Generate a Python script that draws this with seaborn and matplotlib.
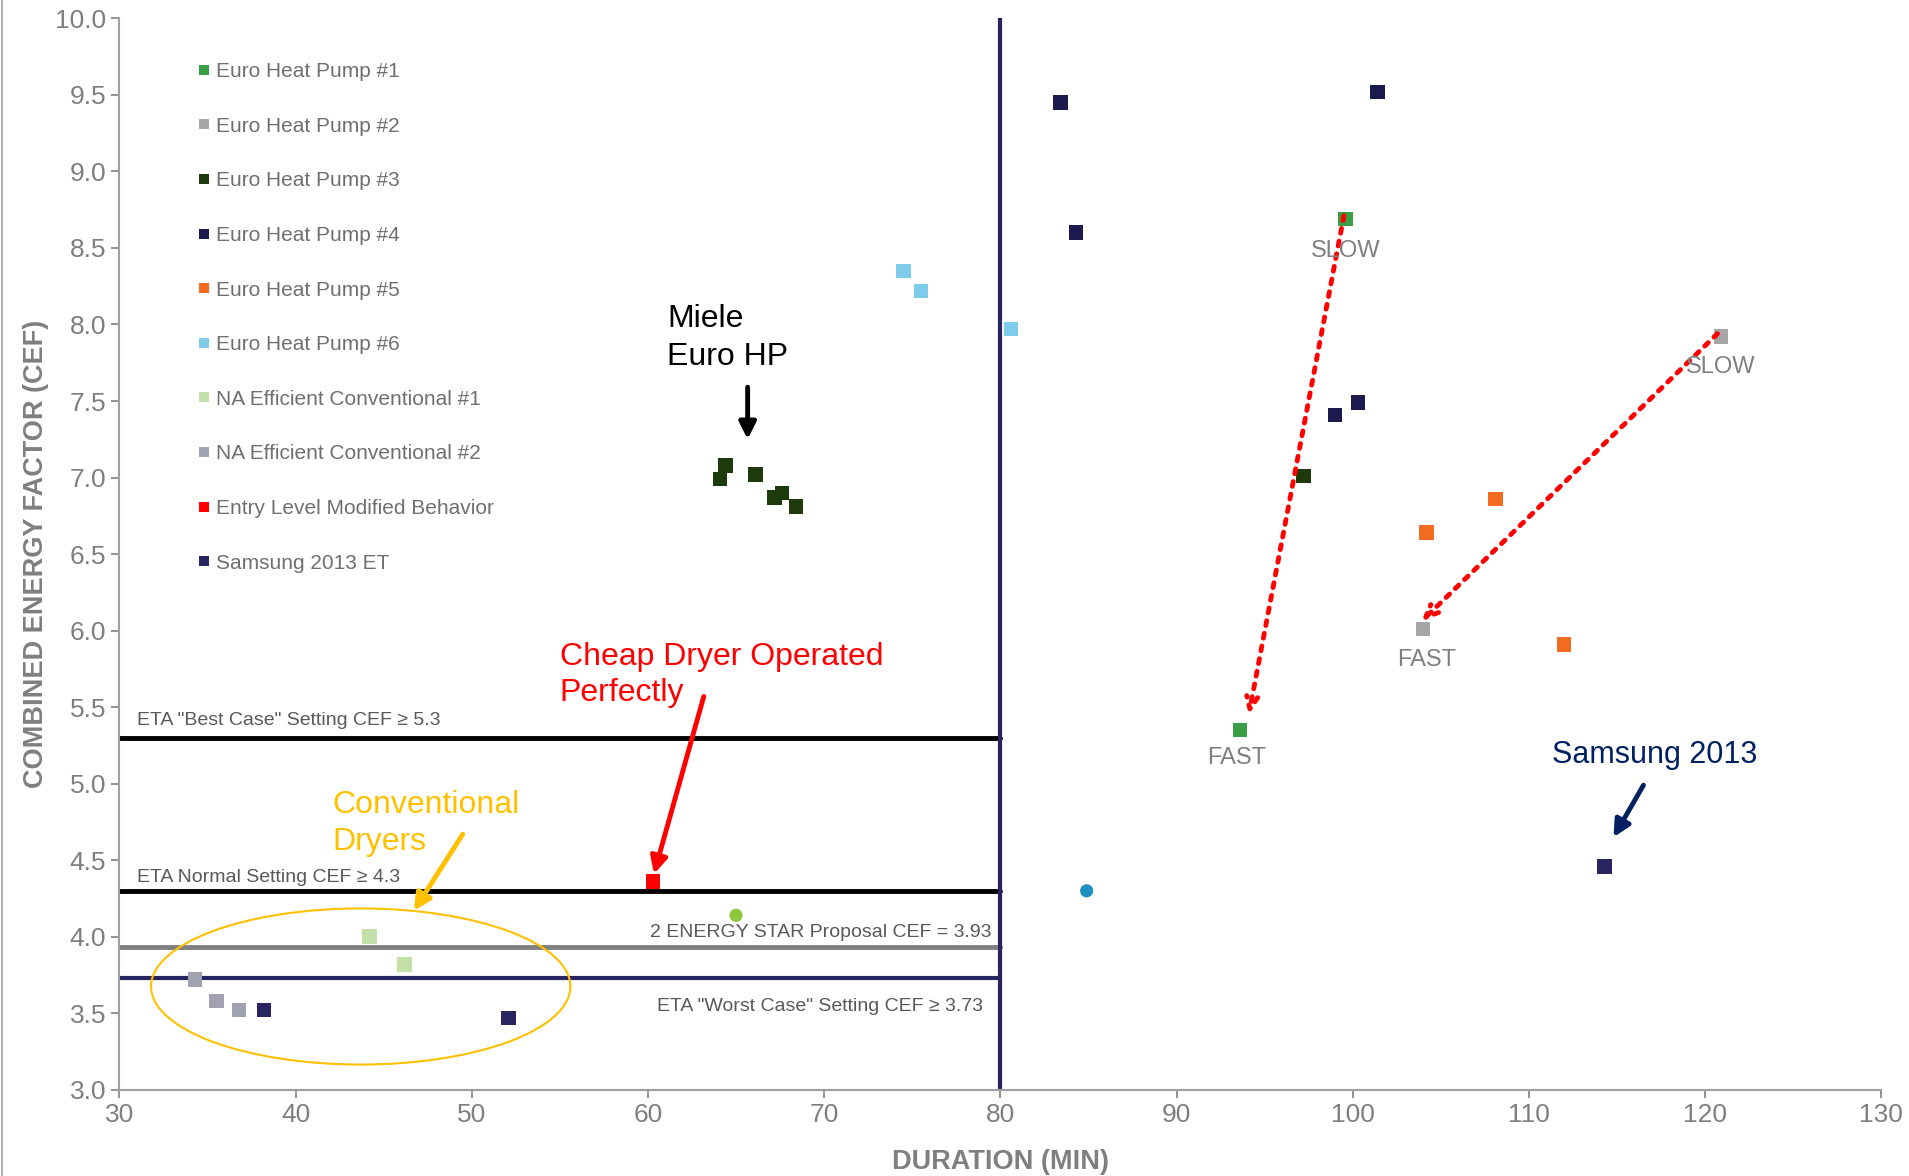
import pandas as pd
import matplotlib.pyplot as plt
import seaborn as sns
from matplotlib.patches import Ellipse
from matplotlib.lines import Line2D

# Series: duration (min), CEF
series = ['Euro Heat Pump #1', 'Euro Heat Pump #2', 'Euro Heat Pump #3',
          'Euro Heat Pump #4', 'Euro Heat Pump #5', 'Euro Heat Pump #6',
          'NA Efficient Conventional #1', 'NA Efficient Conventional #2',
          'Entry Level Modified Behavior', 'Samsung 2013 ET']
colors = ['#3a9e47', '#a6a6a6', '#1d3a0d', '#1c1a4e', '#f26b21', '#7ecbea',
          '#c3e0a9', '#a2a1b2', '#ff0000', '#28245f']

hp1_x = [99.6, 93.6]
hp1_y = [8.69, 5.35]
hp2_x = [120.9, 104.0]
hp2_y = [7.92, 6.01]
hp3_x = [64.1, 64.4, 66.1, 67.2, 67.6, 68.4, 97.2]
hp3_y = [6.99, 7.08, 7.02, 6.87, 6.90, 6.81, 7.01]
hp4_x = [83.4, 101.4, 84.3, 99.0, 100.3]
hp4_y = [9.45, 9.52, 8.60, 7.41, 7.49]
hp5_x = [104.2, 108.1, 112.0]
hp5_y = [6.64, 6.86, 5.91]
hp6_x = [74.5, 75.5, 80.6]
hp6_y = [8.35, 8.22, 7.97]
na1_x = [44.2, 46.2]
na1_y = [4.00, 3.82]
na2_x = [34.3, 35.5, 36.8]
na2_y = [3.72, 3.58, 3.52]
entry_x = [60.3]
entry_y = [4.36]
sam_x = [114.3, 38.2, 52.1]
sam_y = [4.46, 3.52, 3.47]

# two unlabeled round markers
extra_x = [65.0, 84.9]
extra_y = [4.14, 4.30]
extra_c = ['#8dc63f', '#1f8fc1']

# reference lines
lines_y = [5.3, 4.3, 3.93, 3.73]
lines_c = ['black', 'black', '#808080', '#28245f']

xs = [hp1_x, hp2_x, hp3_x, hp4_x, hp5_x, hp6_x, na1_x, na2_x, entry_x, sam_x]
ys = [hp1_y, hp2_y, hp3_y, hp4_y, hp5_y, hp6_y, na1_y, na2_y, entry_y, sam_y]
df = pd.concat([pd.DataFrame({'dur': x, 'cef': y, 'series': s})
                for x, y, s in zip(xs, ys, series)], ignore_index=True)

sns.set_style('white')
plt.rcParams['font.family'] = ['Liberation Sans', 'DejaVu Sans']
narrow = ['Liberation Sans Narrow', 'Liberation Sans', 'DejaVu Sans']
grey = '#7f7f7f'

fig, ax = plt.subplots(figsize=(19.09, 11.76), dpi=100)
fig.subplots_adjust(left=0.0625, right=0.9855, top=0.9844, bottom=0.0733)

# reference lines (drawn under the points)
for yv, c in zip(lines_y, lines_c):
    ax.plot([30, 80], [yv, yv], color=c, lw=3.5 if c != '#28245f' else 3, zorder=1)
ax.plot([80, 80], [3, 10], color='#28245f', lw=3, zorder=1)

sns.scatterplot(data=df, x='dur', y='cef', hue='series', hue_order=series,
                palette=dict(zip(series, colors)), marker='s', s=110,
                linewidth=0, ax=ax, zorder=3)
sns.scatterplot(x=extra_x, y=extra_y, hue=extra_c, palette=dict(zip(extra_c, extra_c)),
                marker='o', s=90, linewidth=0, legend=False, ax=ax, zorder=3)

ax.set_xlim(30, 130)
ax.set_ylim(3, 10)
ax.set_xticks(range(30, 131, 10))
ax.set_yticks([3 + 0.5 * i for i in range(15)])
ax.set_yticklabels([f'{3 + 0.5 * i:.1f}' for i in range(15)])
ax.tick_params(axis='both', labelsize=19, colors=grey, length=6, width=1.2,
               direction='out', left=True, bottom=True)
for s in ['top', 'right']:
    ax.spines[s].set_visible(False)
for s in ['left', 'bottom']:
    ax.spines[s].set_color('#a0a0a0')
    ax.spines[s].set_linewidth(1.5)
ax.set_xlabel('DURATION (MIN)', fontsize=19.5, fontweight='bold', color=grey, labelpad=16)
ax.set_ylabel('COMBINED ENERGY FACTOR (CEF)', fontsize=19.5, fontweight='bold', color=grey,
              labelpad=4)

leg = ax.legend(loc='upper left', bbox_to_anchor=(0.036, 0.967), frameon=False,
                fontsize=15, labelspacing=1.71, handletextpad=0.0, markerscale=0.75,
                borderaxespad=0, handlelength=1.2)
for t in leg.get_texts():
    t.set_color('#6f6f6f')

# line labels
ax.text(31, 5.36, 'ETA "Best Case" Setting CEF ≥ 5.3', fontsize=14, color='#595959',
        family=narrow, va='bottom')
ax.text(31, 4.33, 'ETA Normal Setting CEF ≥ 4.3', fontsize=14, color='#595959',
        family=narrow, va='bottom')
ax.text(79.5, 3.97, '2 ENERGY STAR Proposal CEF = 3.93', fontsize=14, color='#595959',
        family=narrow, va='bottom', ha='right')
ax.text(79, 3.49, 'ETA "Worst Case" Setting CEF ≥ 3.73', fontsize=14, color='#595959',
        family=narrow, va='bottom', ha='right')

# ellipse round the conventional dryers
ax.add_patch(Ellipse((43.7, 3.675), 23.8, 1.02, fill=False, edgecolor='#ffc000',
                     lw=1.5, zorder=2))


def arrow(x0, y0, x1, y1, color, **kw):
    ax.annotate('', xy=(x1, y1), xytext=(x0, y0),
                arrowprops=dict(arrowstyle='-|>,head_width=0.5,head_length=1.0',
                                color=color, lw=3.5, shrinkA=0, shrinkB=0, **kw))


# callouts
ax.text(61.1, 7.91, 'Miele\nEuro HP', fontsize=23, color='black', linespacing=1.35,
        va='center')
arrow(65.66, 7.59, 65.66, 7.25, 'black')
ax.text(55.0, 5.71, 'Cheap Dryer Operated\nPerfectly', fontsize=23, color='#ff0000',
        family=narrow, linespacing=1.28, va='center')
arrow(63.17, 5.57, 60.34, 4.41, '#ff0000')
ax.text(42.1, 4.74, 'Conventional\nDryers', fontsize=23, color='#ffc000',
        family=narrow, linespacing=1.28, va='center')
arrow(49.49, 4.67, 46.72, 4.17, '#ffc000')
ax.text(111.3, 5.19, 'Samsung 2013', fontsize=22, color='#002060', va='center')
arrow(116.5, 4.99, 114.8, 4.65, '#002060')

# slow -> fast dotted arrows
ax.annotate('', xy=(94.1, 5.45), xytext=(99.5, 8.71),
            arrowprops=dict(arrowstyle='->,head_width=0.4,head_length=0.9', color='#ff0000',
                            lw=3.5, ls=':', shrinkA=0, shrinkB=0))
ax.annotate('', xy=(103.9, 6.06), xytext=(120.7, 7.94),
            arrowprops=dict(arrowstyle='->,head_width=0.4,head_length=0.9', color='#ff0000',
                            lw=3.5, ls=':', shrinkA=0, shrinkB=0))
for tx, ty, lab in [(99.6, 8.48, 'SLOW'), (93.4, 5.17, 'FAST'),
                    (120.9, 7.72, 'SLOW'), (104.2, 5.81, 'FAST')]:
    ax.text(tx, ty, lab, fontsize=17, color='#7f7f7f', family=narrow,
            ha='center', va='center')

# thin frame line at the left edge of the picture
fig.add_artist(Line2D([0.001, 0.001], [0, 1], color='#b0b0b0', lw=1.5))

fig.savefig('out.png', dpi=100)
